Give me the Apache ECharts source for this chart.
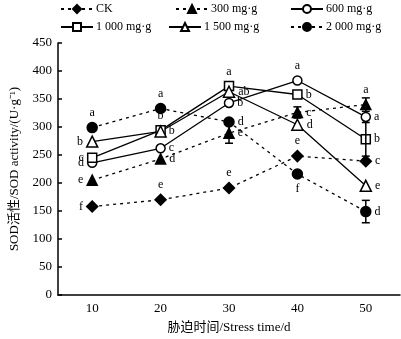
<!DOCTYPE html>
<html><head><meta charset="utf-8">
<script src="https://cdn.jsdelivr.net/npm/echarts@6/dist/echarts.min.js"></script>
<style>html,body{margin:0;padding:0;background:#fff}#c{width:401px;height:339px}</style>
</head><body><div id="c"></div>
<script>
const categories = ['10','20','30','40','50'];
const yTicks = [0,50,100,150,200,250,300,350,400,450];
const seriesNames = ['CK','300 mg·g','600 mg·g','1 000 mg·g','1 500 mg·g','2 000 mg·g'];
const ck    = [158, 170, 191, 248, 239];
const s300  = [205, 243, 289, 326, 340];
const s600  = [236, 262, 343, 383, 318];
const s1000 = [245, 294, 373, 358, 278];
const s1500 = [274, 292, 363, 304, 195];
const s2000 = [299, 333, 309, 216, 149];
const errCK    = [0, 0, 0, 0, 0];
const err300   = [0, 0, 18, 10, 12];
const err600   = [0, 0, 0, 0, 0];
const err1000  = [0, 0, 0, 0, 30];
const err1500  = [0, 0, 0, 0, 0];
const err2000  = [0, 0, 0, 0, 20];
const lblCK   = ['f','e','e','e','c'];
const lbl300  = ['e','d','e','c','a'];
const lbl600  = ['d','c','b','a','a'];
const lbl1000 = ['c','b','a','b','b'];
const lbl1500 = ['b','b','ab','d','e'];
const lbl2000 = ['a','a','d','f','d'];

const FONT = "'Liberation Serif', 'Noto Sans CJK SC', serif";
const values = [ck, s300, s600, s1000, s1500, s2000];
const errs = [errCK, err300, err600, err1000, err1500, err2000];
const lbls = [lblCK, lbl300, lbl600, lbl1000, lbl1500, lbl2000];
const labelPos = [
  ['left','top','top','top','right'],
  ['left','right','right','right','top'],
  ['left','right','right','top','right'],
  ['left','right','top','right','right'],
  ['left','top','right','right','right'],
  ['top','top','right','bottom','right']
];
const styles = [
  {symbol:'diamond', size:11, fill:'#000', dash:[3,4]},
  {symbol:'triangle', size:10, fill:'#000', dash:[3,4]},
  {symbol:'circle', size:9, fill:'#fff', dash:'solid'},
  {symbol:'rect', size:9, fill:'#fff', dash:'solid'},
  {symbol:'triangle', size:11, fill:'#fff', dash:'solid'},
  {symbol:'circle', size:10, fill:'#000', dash:[3,4]}
];
const legendPos = [
  {left:60, top:3}, {left:175, top:3}, {left:290, top:3},
  {left:60, top:21}, {left:168, top:21}, {left:290, top:21}
];

const series = [];
values.forEach((vals, i) => {
  const st = styles[i];
  series.push({
    name: seriesNames[i], type:'line', data: vals.map((v,j)=>({
      value: v,
      label: {show:true, formatter: lbls[i][j], position: labelPos[i][j]}
    })),
    symbol: st.symbol, symbolSize: st.size, showAllSymbol:true,
    lineStyle: {color:'#000', width:1.3, type: st.dash},
    itemStyle: {color: st.fill, borderColor:'#000', borderWidth:1.5},
    label: {color:'#000', fontFamily: FONT, fontSize:12, distance:3},
    z: 3, animation:false
  });
  series.push({
    type:'custom', name: seriesNames[i] + ' err', silent:true, z:4,
    data: vals.map((v,j)=>[j, v, errs[i][j]]).filter(d=>d[2]>0),
    renderItem: function(params, api){
      const x = api.value(0), y = api.value(1), e = api.value(2);
      const top = api.coord([x, y+e]), bot = api.coord([x, y-e]);
      const w = 4;
      return {type:'group', children:[
        {type:'line', shape:{x1:top[0],y1:top[1],x2:bot[0],y2:bot[1]}, style:{stroke:'#000', lineWidth:1.5}},
        {type:'line', shape:{x1:top[0]-w,y1:top[1],x2:top[0]+w,y2:top[1]}, style:{stroke:'#000', lineWidth:1.5}},
        {type:'line', shape:{x1:bot[0]-w,y1:bot[1],x2:bot[0]+w,y2:bot[1]}, style:{stroke:'#000', lineWidth:1.5}}
      ]};
    },
    animation:false
  });
});

const legends = seriesNames.map((n,i)=>({
  data:[n], left: legendPos[i].left, top: legendPos[i].top, padding:0,
  itemWidth:32, itemHeight:10, itemGap:0,
  textStyle:{fontFamily:FONT, fontSize:12, color:'#000', padding:[0,0,0,-2]},
  selectedMode:false
}));

const chart = echarts.init(document.getElementById('c'), null, {renderer:'canvas'});
chart.setOption({
  animation:false,
  backgroundColor:'#fff',
  legend: legends,
  grid: {left:50, right:1, top:43, bottom:42, containLabel:false},
  xAxis: {
    type:'category', data: categories, boundaryGap:true,
    name:'胁迫时间/Stress time/d', nameLocation:'middle', nameGap:26,
    nameTextStyle:{fontFamily:FONT, fontSize:13, color:'#000'},
    axisLine:{lineStyle:{color:'#000', width:1.5}},
    axisTick:{inside:true, length:5, lineStyle:{color:'#000', width:1.5}},
    axisLabel:{fontFamily:FONT, fontSize:13, color:'#000', margin:7}
  },
  yAxis: {
    type:'value', min: yTicks[0], max: yTicks[yTicks.length-1], interval: 50,
    name:'SOD活性/SOD activity/(U·g⁻¹)', nameLocation:'middle', nameGap:37, nameRotate:90,
    nameTextStyle:{fontFamily:FONT, fontSize:13, color:'#000'},
    axisLine:{show:true, lineStyle:{color:'#000', width:1.5}},
    axisTick:{show:true, inside:true, length:4, lineStyle:{color:'#000', width:1.5}},
    splitLine:{show:false},
    axisLabel:{fontFamily:FONT, fontSize:13, color:'#000', margin:6}
  },
  series: series
});
</script></body></html>
